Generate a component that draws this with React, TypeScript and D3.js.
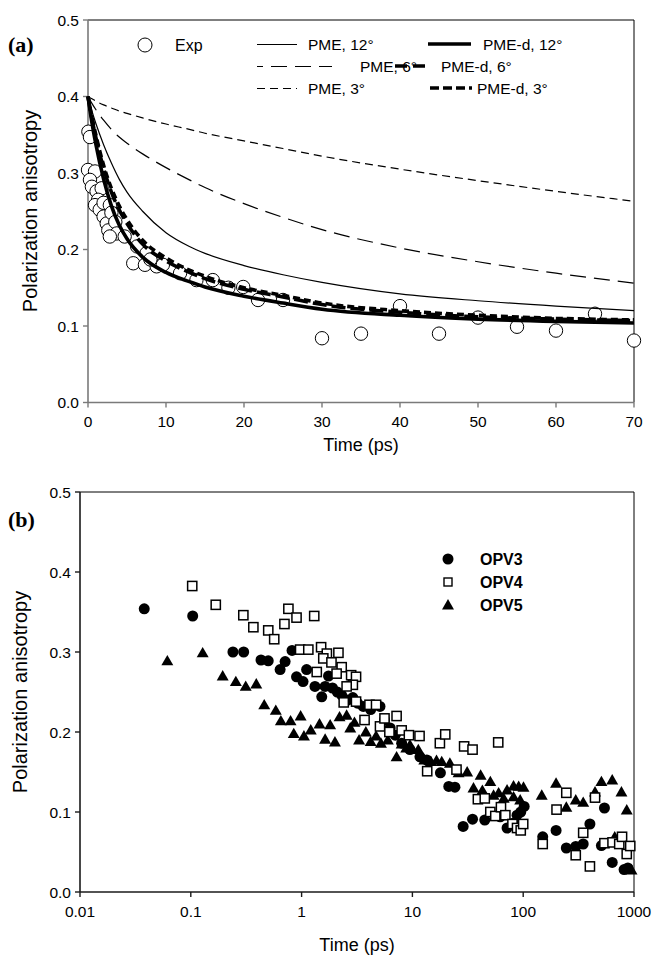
import React from "react";
import * as d3 from "d3";

// ---------- Panel (a) data ----------
const curveT = [0, 0.5, 1, 2, 3, 4, 5, 7, 10, 13, 15, 20, 25, 30, 40, 50, 60, 70];
const pme12 = [0.4, 0.381, 0.365, 0.337, 0.313, 0.292, 0.275, 0.25, 0.222, 0.204, 0.195, 0.179, 0.167, 0.157, 0.142, 0.133, 0.126, 0.12];
const pme6 = [0.4, 0.391, 0.383, 0.369, 0.357, 0.347, 0.339, 0.325, 0.307, 0.291, 0.281, 0.26, 0.242, 0.226, 0.202, 0.184, 0.169, 0.156];
const pme3 = [0.4, 0.397, 0.394, 0.389, 0.385, 0.381, 0.378, 0.372, 0.364, 0.357, 0.352, 0.342, 0.332, 0.322, 0.305, 0.29, 0.276, 0.263];
const pmed12 = [0.4, 0.366, 0.338, 0.292, 0.257, 0.232, 0.214, 0.19, 0.17, 0.158, 0.151, 0.139, 0.13, 0.122, 0.114, 0.109, 0.106, 0.104];
const pmed6 = [0.4, 0.371, 0.347, 0.306, 0.275, 0.252, 0.234, 0.207, 0.185, 0.17, 0.162, 0.148, 0.138, 0.128, 0.118, 0.112, 0.109, 0.107];
const pmed3 = [0.4, 0.373, 0.35, 0.31, 0.28, 0.257, 0.239, 0.212, 0.189, 0.173, 0.165, 0.15, 0.14, 0.13, 0.12, 0.114, 0.11, 0.108];

const expT = [0.05, 0.25, 0.0, 0.9, 0.25, 0.5, 1.1, 1.75, 1.3, 0.9, 1.5, 2.0, 2.8, 2.0, 2.4, 3.0, 2.6, 3.5, 3.7, 4.7, 2.8, 5.8, 7.3, 8.8, 9.6, 6.3, 7.5, 8.0, 11.8, 13.9, 16, 18, 19.9, 21.8, 25, 30, 35, 40, 45, 50, 55, 60, 65, 70];
const expV = [0.354, 0.347, 0.304, 0.302, 0.291, 0.282, 0.276, 0.28, 0.265, 0.258, 0.252, 0.261, 0.258, 0.243, 0.234, 0.248, 0.225, 0.236, 0.221, 0.217, 0.217, 0.182, 0.18, 0.178, 0.18, 0.204, 0.195, 0.187, 0.169, 0.16, 0.16, 0.15, 0.151, 0.134, 0.134, 0.084, 0.09, 0.126, 0.09, 0.111, 0.099, 0.094, 0.116, 0.081];

const xTicksA = [0, 10, 20, 30, 40, 50, 60, 70];
const yTicks = [0, 0.1, 0.2, 0.3, 0.4, 0.5];

// ---------- Panel (b) data ----------
const opv3T = [0.038, 0.104, 0.24, 0.3, 0.43, 0.5, 0.64, 0.71, 0.82, 0.9, 1.03, 1.11, 1.32, 1.52, 1.63, 1.75, 1.9, 2.1, 2.3, 2.6, 2.9, 3.2, 3.6, 4.2, 5.1, 5.6, 6.3, 7.0, 8.0, 9.5, 11.7, 13.5, 17.9, 21.3, 24.2, 28.7, 34.9, 45, 62, 71.5, 81, 88, 95, 102, 150, 198, 245, 298, 348, 400, 508, 541, 636, 814, 880];
const opv3V = [0.354, 0.345, 0.3, 0.3, 0.29, 0.289, 0.278, 0.288, 0.302, 0.269, 0.263, 0.278, 0.257, 0.244, 0.257, 0.27, 0.255, 0.25, 0.246, 0.24, 0.243, 0.236, 0.232, 0.228, 0.232, 0.215, 0.205, 0.196, 0.186, 0.178, 0.169, 0.165, 0.149, 0.132, 0.131, 0.082, 0.091, 0.09, 0.094, 0.08, 0.086, 0.096, 0.1, 0.107, 0.069, 0.077, 0.055, 0.057, 0.06, 0.085, 0.058, 0.105, 0.037, 0.028, 0.03];

const opv4T = [0.103, 0.168, 0.298, 0.367, 0.5, 0.566, 0.7, 0.76, 0.9, 1.3, 0.97, 1.15, 1.5, 1.69, 2.15, 1.57, 1.86, 2.3, 1.37, 2.07, 2.8, 3.1, 2.9, 2.55, 2.4, 3.1, 3.7, 4.1, 4.7, 5.1, 5.6, 6.2, 7.2, 8.0, 9.3, 11.6, 13.6, 17.7, 19.8, 25, 29.3, 34.9, 39, 45, 50.5, 56, 59.5, 63, 69, 80, 88, 95, 100, 150, 200, 245, 298, 348, 400, 445, 541, 640, 736, 780, 860, 925];
const opv4V = [0.3825, 0.359, 0.346, 0.331, 0.327, 0.316, 0.335, 0.354, 0.343, 0.345, 0.303, 0.303, 0.306, 0.298, 0.299, 0.292, 0.287, 0.281, 0.275, 0.273, 0.271, 0.269, 0.259, 0.257, 0.237, 0.238, 0.215, 0.234, 0.234, 0.207, 0.217, 0.2, 0.22, 0.202, 0.196, 0.195, 0.151, 0.186, 0.197, 0.153, 0.182, 0.178, 0.116, 0.117, 0.1, 0.095, 0.187, 0.106, 0.096, 0.085, 0.08, 0.077, 0.085, 0.06, 0.103, 0.124, 0.046, 0.074, 0.032, 0.118, 0.061, 0.062, 0.06, 0.069, 0.0475, 0.0575];

const opv5T = [0.0614, 0.128, 0.194, 0.255, 0.313, 0.39, 0.46, 0.585, 0.65, 0.795, 0.98, 0.85, 1.05, 1.21, 1.45, 1.63, 1.81, 2.0, 2.2, 2.55, 2.75, 3.0, 3.3, 3.8, 4.2, 4.7, 5.2, 6.0, 7.2, 8.0, 8.8, 9.5, 11.3, 12.8, 14.7, 16.5, 18.4, 21.8, 26.1, 31.2, 35.6, 41.3, 42.8, 50.5, 54, 60, 66.7, 71.5, 81.8, 81.8, 91, 93.9, 100.6, 147, 198, 245, 298, 348, 445, 508, 636, 670, 770, 860, 950];
const opv5V = [0.289, 0.299, 0.27, 0.263, 0.257, 0.26, 0.234, 0.227, 0.214, 0.214, 0.22, 0.198, 0.195, 0.2025, 0.21, 0.191, 0.209, 0.1875, 0.219, 0.221, 0.205, 0.212, 0.19, 0.2, 0.188, 0.195, 0.186, 0.19, 0.169, 0.185, 0.18, 0.184, 0.178, 0.165, 0.163, 0.1645, 0.163, 0.161, 0.149, 0.15, 0.13, 0.146, 0.127, 0.138, 0.121, 0.124, 0.117, 0.1275, 0.1325, 0.119, 0.132, 0.115, 0.131, 0.121, 0.136, 0.106, 0.115, 0.112, 0.125, 0.138, 0.14, 0.069, 0.125, 0.1025, 0.0275];

const xTicksB = [0.01, 0.1, 1, 10, 100, 1000];
const xTickLabelsB = ["0.01", "0.1", "1", "10", "100", "1000"];

const FONT = "'Liberation Sans', Arial, Helvetica, sans-serif";
const SERIF = "'Liberation Serif', 'Times New Roman', serif";

function PanelA() {
  const x = d3.scaleLinear().domain([0, 70]).range([88, 634]);
  const y = d3.scaleLinear().domain([0, 0.5]).range([402.5, 20]);
  const line = d3
    .line<number>()
    .x((_, i) => x(curveT[i]))
    .y((d) => y(d))
    .curve(d3.curveMonotoneX);
  const axisColor = "#7a7a7a";
  const curves = [
    { v: pme3, w: 1.2, dash: "8,5" },
    { v: pme6, w: 1.2, dash: "16,8" },
    { v: pme12, w: 1.2, dash: null },
    { v: pmed3, w: 3.6, dash: "7,4" },
    { v: pmed6, w: 3.6, dash: "14,5" },
    { v: pmed12, w: 3.6, dash: null },
  ];
  return (
    <g>
      <line x1={x(0)} x2={x(70)} y1={y(0.5)} y2={y(0.5)} stroke="#000" strokeWidth={1} />
      <line x1={x(70)} x2={x(70)} y1={y(0.5)} y2={y(0)} stroke="#000" strokeWidth={1} />
      <line x1={x(0)} x2={x(0)} y1={y(0.5)} y2={y(0)} stroke={axisColor} strokeWidth={1.6} />
      <line x1={x(0)} x2={x(70)} y1={y(0)} y2={y(0)} stroke={axisColor} strokeWidth={1.6} />
      {yTicks.map((t) => (
        <g key={"ya" + t}>
          <line x1={x(0) - 5} x2={x(0)} y1={y(t)} y2={y(t)} stroke={axisColor} strokeWidth={1.4} />
          <text x={x(0) - 9} y={y(t) + 5.5} textAnchor="end" fontSize={15.5} fontFamily={FONT}>
            {t.toFixed(1)}
          </text>
        </g>
      ))}
      {xTicksA.map((t) => (
        <g key={"xa" + t}>
          <line x1={x(t)} x2={x(t)} y1={y(0)} y2={y(0) + 5} stroke={axisColor} strokeWidth={1.4} />
          <text x={x(t)} y={y(0) + 24} textAnchor="middle" fontSize={15.5} fontFamily={FONT}>
            {t}
          </text>
        </g>
      ))}
      {expT.map((t, i) => (
        <circle key={"e" + i} cx={x(t)} cy={y(expV[i])} r={6.7} fill="#fff" stroke="#000" strokeWidth={1} />
      ))}
      {curves.map((c, i) => (
        <path
          key={"c" + i}
          d={line(c.v) || ""}
          fill="none"
          stroke="#000"
          strokeWidth={c.w}
          strokeDasharray={c.dash || undefined}
        />
      ))}
      {/* legend */}
      <circle cx={145} cy={45} r={7} fill="#fff" stroke="#000" strokeWidth={1} />
      <text x={175} y={51} fontSize={16} fontFamily={FONT}>Exp</text>
      <line x1={257} x2={297} y1={44.5} y2={44.5} stroke="#000" strokeWidth={1.2} />
      <text x={308} y={50} fontSize={15.5} fontFamily={FONT}>PME, 12°</text>
      <line x1={257} x2={332} y1={66.5} y2={66.5} stroke="#000" strokeWidth={1.2} strokeDasharray="16,8" strokeDashoffset={10} />
      <text x={360} y={72} fontSize={15.5} fontFamily={FONT}>PME, 6°</text>
      <line x1={257} x2={297} y1={88.5} y2={88.5} stroke="#000" strokeWidth={1.2} strokeDasharray="8,5" />
      <text x={308} y={94} fontSize={15.5} fontFamily={FONT}>PME, 3°</text>
      <line x1={428} x2={471} y1={44} y2={44} stroke="#000" strokeWidth={3.6} />
      <text x={483} y={50} fontSize={15.5} fontFamily={FONT}>PME-d, 12°</text>
      <line x1={395} x2={425} y1={66} y2={66} stroke="#000" strokeWidth={3.6} strokeDasharray="12,6" />
      <text x={441} y={72} fontSize={15.5} fontFamily={FONT}>PME-d, 6°</text>
      <line x1={430} x2={472} y1={88} y2={88} stroke="#000" strokeWidth={3.6} strokeDasharray="9,4" />
      <text x={477} y={94} fontSize={15.5} fontFamily={FONT}>PME-d, 3°</text>
      {/* titles */}
      <text x={361} y={451} textAnchor="middle" fontSize={18} fontFamily={FONT}>Time (ps)</text>
      <text transform="translate(37,211) rotate(-90)" textAnchor="middle" fontSize={20} fontFamily={FONT}>
        Polarization anisotropy
      </text>
      <text x={8} y={52} fontSize={22} fontWeight="bold" fontFamily={SERIF}>(a)</text>
    </g>
  );
}

function PanelB() {
  const x = d3.scaleLog().domain([0.01, 1000]).range([80, 634]);
  const y = d3.scaleLinear().domain([0, 0.5]).range([892, 492]);
  const tri = d3.symbol().type(d3.symbolTriangle).size(62)() || "";
  const axisColor = "#1a1a1a";
  return (
    <g>
      <line x1={x(0.01)} x2={x(1000)} y1={y(0.5)} y2={y(0.5)} stroke="#000" strokeWidth={1} />
      <line x1={x(1000)} x2={x(1000)} y1={y(0.5)} y2={y(0)} stroke="#000" strokeWidth={1} />
      <line x1={x(0.01)} x2={x(0.01)} y1={y(0.5)} y2={y(0)} stroke={axisColor} strokeWidth={1.6} />
      <line x1={x(0.01)} x2={x(1000)} y1={y(0)} y2={y(0)} stroke={axisColor} strokeWidth={1.6} />
      {yTicks.map((t) => (
        <g key={"yb" + t}>
          <line x1={x(0.01) - 5} x2={x(0.01)} y1={y(t)} y2={y(t)} stroke={axisColor} strokeWidth={1.4} />
          <text x={x(0.01) - 9} y={y(t) + 5.5} textAnchor="end" fontSize={15.5} fontFamily={FONT}>
            {t.toFixed(1)}
          </text>
        </g>
      ))}
      {xTicksB.map((t, i) => (
        <g key={"xb" + t}>
          <line x1={x(t)} x2={x(t)} y1={y(0)} y2={y(0) + 5} stroke={axisColor} strokeWidth={1.4} />
          <text x={x(t)} y={y(0) + 25} textAnchor="middle" fontSize={15.5} fontFamily={FONT}>
            {xTickLabelsB[i]}
          </text>
        </g>
      ))}
      {opv5T.map((t, i) => (
        <path key={"t" + i} d={tri} transform={`translate(${x(t)},${y(opv5V[i]) + 1})`} fill="#000" />
      ))}
      {opv3T.map((t, i) => (
        <circle key={"c" + i} cx={x(t)} cy={y(opv3V[i])} r={5.5} fill="#000" />
      ))}
      {opv4T.map((t, i) => (
        <rect key={"s" + i} x={x(t) - 4.6} y={y(opv4V[i]) - 4.6} width={9.2} height={9.2} fill="#fff" stroke="#000" strokeWidth={1.5} />
      ))}
      {/* legend */}
      <circle cx={448} cy={559} r={5.5} fill="#000" />
      <text x={480} y={565} fontSize={16} fontWeight="bold" fontFamily={FONT}>OPV3</text>
      <rect x={448 - 4} y={582 - 4} width={8} height={8} fill="#fff" stroke="#000" strokeWidth={1.4} />
      <text x={480} y={588} fontSize={16} fontWeight="bold" fontFamily={FONT}>OPV4</text>
      <path d={tri} transform="translate(448,606)" fill="#000" />
      <text x={480} y={611} fontSize={16} fontWeight="bold" fontFamily={FONT}>OPV5</text>
      <text x={357} y={951} textAnchor="middle" fontSize={18} fontFamily={FONT}>Time (ps)</text>
      <text transform="translate(27,692) rotate(-90)" textAnchor="middle" fontSize={20} fontFamily={FONT}>
        Polarization anisotropy
      </text>
      <text x={8} y={527} fontSize={22} fontWeight="bold" fontFamily={SERIF}>(b)</text>
    </g>
  );
}

export default function App() {
  return (
    <svg
      width={653}
      height={958}
      style={{ position: "absolute", left: 0, top: 0, background: "#fff", display: "block" }}
    >
      <rect x={0} y={0} width={653} height={958} fill="#fff" />
      <PanelA />
      <PanelB />
    </svg>
  );
}
